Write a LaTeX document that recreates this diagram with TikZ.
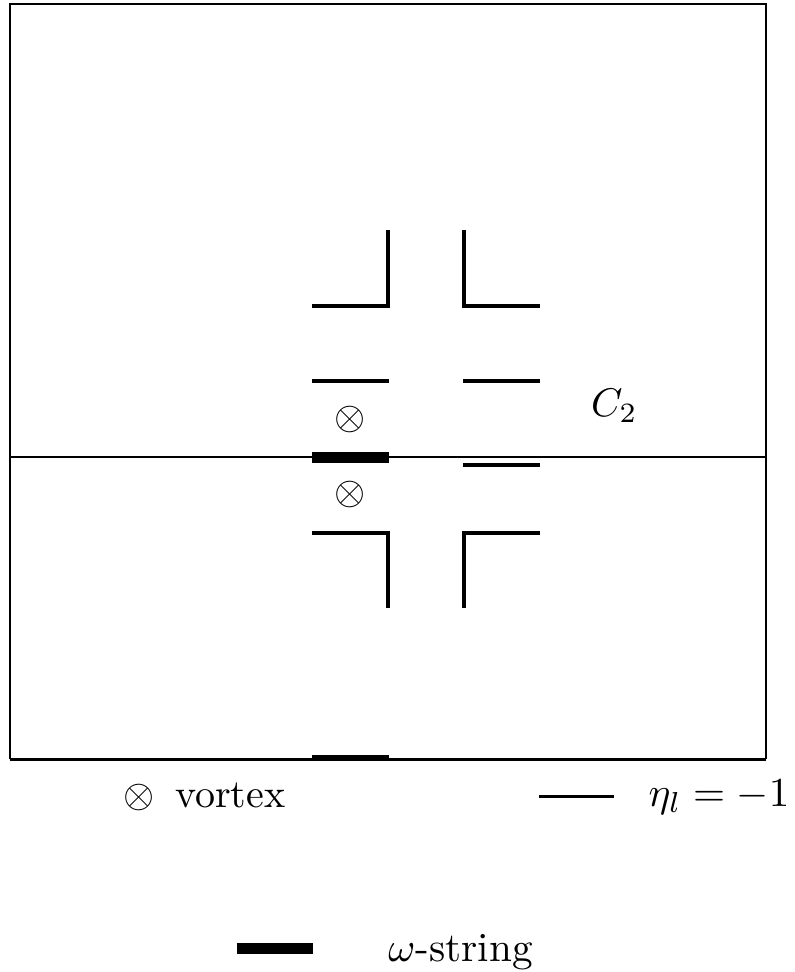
\documentclass[tikz,border=0pt]{standalone}
\begin{document}
\begin{tikzpicture}[x=0.25pt,y=-0.25pt,
  frame/.style={line width=0.45pt},
  eta/.style={line width=0.83pt,line join=miter,line cap=butt},
  omega/.style={line width=2.75pt,line cap=butt},
  lab/.style={inner sep=0pt,outer sep=0pt}]
\useasboundingbox (0,0) rectangle (794,972);
% frame
\draw[frame] (10,759.3) -- (10,4.3) -- (765.7,4.3) -- (765.7,759.3);
\draw[line width=0.65pt] (9.5,759.3) -- (766.2,759.3);
\draw[line width=0.5pt] (10,456.7) -- (765.7,456.7);
% eta = -1 links
\draw[eta] (312,306) -- (388,306) -- (388,230);
\draw[eta] (464,230) -- (464,306) -- (540,306);
\draw[eta] (312,381) -- (389,381);
\draw[eta] (463,381) -- (540,381);
\draw[eta] (463,465) -- (540,465);
\draw[eta] (312,533) -- (388,533) -- (388,608);
\draw[eta] (464,608) -- (464,533) -- (540,533);
\draw[eta] (312,757) -- (389,757);
% omega string
\draw[omega] (312,457) -- (389,457);
% vortices
\node[lab] (v1) at (350,419.3) {$\otimes$};
\node[lab] (v2) at (350,494) {$\otimes$};
\node[lab,anchor=base west] (c2) at (591,416.7) {$C_2$};
% legend
\node[lab,anchor=base] (lvs) at (139,807) {$\otimes$};
\node[lab,anchor=base west] (lv) at (175,807) {vortex};
\coordinate (la) at (539,796.7);
\coordinate (lb) at (614,796.7);
\draw[eta] (la) -- (lb);
\node[lab,anchor=base,scale=1.03] (le) at (719,806.7) {$\eta_l=-1$};
\coordinate (oa) at (236.7,948.2);
\coordinate (ob) at (312.7,948.2);
\draw[omega] (oa) -- (ob);
\node[lab,anchor=base,scale=1.03] (lo) at (460.5,961.7) {$\omega$-string};
\end{tikzpicture}
\end{document}
